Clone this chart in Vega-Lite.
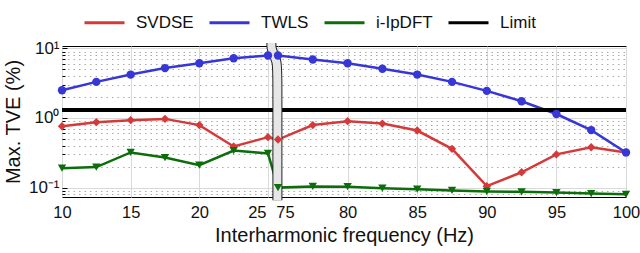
{
  "$schema": "https://vega.github.io/schema/vega-lite/v6.json",
  "width": 564,
  "height": 151,
  "autosize": {"type": "none"},
  "padding": {"left": 62, "top": 46, "right": 14, "bottom": 56},
  "background": "white",
  "config": {
    "font": "Liberation Sans",
    "view": {"stroke": "black", "strokeWidth": 1},
    "axis": {
      "labelFont": "Liberation Sans",
      "titleFont": "Liberation Sans",
      "labelColor": "#111",
      "titleColor": "#111",
      "titleFontWeight": "normal",
      "domain": false
    }
  },
  "datasets": {
    "series": [
      {"f": 10, "series": "SVDSE", "tve": 0.76},
      {"f": 12.5, "series": "SVDSE", "tve": 0.87},
      {"f": 15, "series": "SVDSE", "tve": 0.93},
      {"f": 17.5, "series": "SVDSE", "tve": 0.97},
      {"f": 20, "series": "SVDSE", "tve": 0.79},
      {"f": 22.5, "series": "SVDSE", "tve": 0.39},
      {"f": 25, "series": "SVDSE", "tve": 0.53},
      {"f": 75, "series": "SVDSE", "tve": 0.49},
      {"f": 77.5, "series": "SVDSE", "tve": 0.79},
      {"f": 80, "series": "SVDSE", "tve": 0.9},
      {"f": 82.5, "series": "SVDSE", "tve": 0.83},
      {"f": 85, "series": "SVDSE", "tve": 0.66},
      {"f": 87.5, "series": "SVDSE", "tve": 0.36},
      {"f": 90, "series": "SVDSE", "tve": 0.105},
      {"f": 92.5, "series": "SVDSE", "tve": 0.166},
      {"f": 95, "series": "SVDSE", "tve": 0.3},
      {"f": 97.5, "series": "SVDSE", "tve": 0.38},
      {"f": 100, "series": "SVDSE", "tve": 0.32},
      {"f": 10, "series": "TWLS", "tve": 2.5},
      {"f": 12.5, "series": "TWLS", "tve": 3.3},
      {"f": 15, "series": "TWLS", "tve": 4.2},
      {"f": 17.5, "series": "TWLS", "tve": 5.2},
      {"f": 20, "series": "TWLS", "tve": 6.1},
      {"f": 22.5, "series": "TWLS", "tve": 7.2},
      {"f": 25, "series": "TWLS", "tve": 7.9},
      {"f": 75, "series": "TWLS", "tve": 7.9},
      {"f": 77.5, "series": "TWLS", "tve": 6.9},
      {"f": 80, "series": "TWLS", "tve": 6.1},
      {"f": 82.5, "series": "TWLS", "tve": 5.1},
      {"f": 85, "series": "TWLS", "tve": 4.2},
      {"f": 87.5, "series": "TWLS", "tve": 3.3},
      {"f": 90, "series": "TWLS", "tve": 2.45},
      {"f": 92.5, "series": "TWLS", "tve": 1.74},
      {"f": 95, "series": "TWLS", "tve": 1.14},
      {"f": 97.5, "series": "TWLS", "tve": 0.67},
      {"f": 100, "series": "TWLS", "tve": 0.32},
      {"f": 10, "series": "i-IpDFT", "tve": 0.19},
      {"f": 12.5, "series": "i-IpDFT", "tve": 0.197},
      {"f": 15, "series": "i-IpDFT", "tve": 0.32},
      {"f": 17.5, "series": "i-IpDFT", "tve": 0.27},
      {"f": 20, "series": "i-IpDFT", "tve": 0.21},
      {"f": 22.5, "series": "i-IpDFT", "tve": 0.34},
      {"f": 25, "series": "i-IpDFT", "tve": 0.31},
      {"f": 75, "series": "i-IpDFT", "tve": 0.1},
      {"f": 77.5, "series": "i-IpDFT", "tve": 0.104},
      {"f": 80, "series": "i-IpDFT", "tve": 0.103},
      {"f": 82.5, "series": "i-IpDFT", "tve": 0.098},
      {"f": 85, "series": "i-IpDFT", "tve": 0.095},
      {"f": 87.5, "series": "i-IpDFT", "tve": 0.091},
      {"f": 90, "series": "i-IpDFT", "tve": 0.088},
      {"f": 92.5, "series": "i-IpDFT", "tve": 0.087},
      {"f": 95, "series": "i-IpDFT", "tve": 0.085},
      {"f": 97.5, "series": "i-IpDFT", "tve": 0.082},
      {"f": 100, "series": "i-IpDFT", "tve": 0.08}
    ],
    "limit": [{"series": "Limit", "tve": 1.3}],
    "brk": [
      {"k": 0, "bx": 42, "by": 11.9},
      {"k": 1, "bx": 42, "by": 10.8},
      {"k": 2, "bx": 42, "by": 9.8},
      {"k": 3, "bx": 72, "by": 6.2},
      {"k": 4, "bx": 72, "by": 4.6},
      {"k": 5, "bx": 72, "by": 0.066}
    ]
  },
  "layer": [
    {
      "data": {"name": "series"},
      "mark": {"type": "line", "strokeWidth": 2.5},
      "encoding": {
        "x": {
          "field": "f", "type": "quantitative",
          "scale": {"domain": [10, 25, 75, 100], "range": [0, 206, 216, 564]},
          "axis": {
            "values": [10, 15, 20, 25, 75, 80, 85, 90, 95, 100],
            "title": "Interharmonic frequency (Hz)",
            "titleFontSize": 20,
            "titlePadding": 5,
            "labelFontSize": 16.5,
            "labelPadding": 7,
            "ticks": false,
            "labelAlign": {"condition": {"test": "datum.value == 25", "value": "right"}, "value": "center"},
            "labelOffset": {"condition": [{"test": "datum.value == 75", "value": 7}, {"test": "datum.value == 25", "value": -2}], "value": 0},
            "grid": true,
            "gridColor": "#d9d9d9",
            "gridWidth": 1
          }
        },
        "y": {
          "field": "tve", "type": "quantitative",
          "scale": {"type": "log", "domain": [0.0733, 10.8], "nice": false},
          "axis": {
            "values": [0.08, 0.09, 0.1, 0.2, 0.3, 0.4, 0.5, 0.6, 0.7, 0.8, 0.9, 1, 2, 3, 4, 5, 6, 7, 8, 9, 10],
            "labelExpr": "datum.value == 10 ? '10¹' : datum.value == 1 ? '10⁰' : datum.value == 0.1 ? '10⁻¹' : ''",
            "title": "Max. TVE (%)",
            "titleFontSize": 20,
            "titlePadding": 5,
            "labelFontSize": 17,
            "labelPadding": 8,
            "ticks": true,
            "tickColor": "black",
            "tickSize": {"condition": {"test": "datum.value == 10 || datum.value == 1 || datum.value == 0.1", "value": -5}, "value": -3},
            "grid": true,
            "gridColor": {"condition": {"test": "datum.value == 10 || datum.value == 1 || datum.value == 0.1", "value": "#d9d9d9"}, "value": "#aaaaaa"},
            "gridDash": {"condition": {"test": "datum.value == 10 || datum.value == 1 || datum.value == 0.1", "value": []}, "value": [1.5, 4]}
          }
        },
        "color": {
          "field": "series", "type": "nominal",
          "scale": {"domain": ["SVDSE", "TWLS", "i-IpDFT", "Limit"], "range": ["#d43a3a", "#3737d8", "#0b6e0b", "#000000"]},
          "legend": {
            "orient": "none",
            "legendX": 21,
            "legendY": -45,
            "direction": "horizontal",
            "symbolType": "stroke",
            "symbolSize": 1600,
            "symbolStrokeWidth": 3,
            "labelFont": "Liberation Sans Narrow, Liberation Sans",
            "labelFontSize": 17,
            "labelColor": "#111",
            "labelOffset": 10,
            "columnPadding": 9,
            "title": null
          }
        }
      }
    },
    {
      "data": {"name": "limit"},
      "mark": {"type": "rule", "strokeWidth": 4},
      "encoding": {
        "y": {"field": "tve", "type": "quantitative"},
        "color": {"field": "series", "type": "nominal"}
      }
    },
    {
      "data": {"name": "brk"},
      "mark": {"type": "line", "interpolate": "basis", "strokeWidth": 10, "color": "#222", "strokeCap": "butt", "clip": false},
      "encoding": {
        "x": {"field": "bx", "type": "quantitative"},
        "y": {"field": "by", "type": "quantitative"},
        "order": {"field": "k", "type": "quantitative"}
      }
    },
    {
      "data": {"name": "brk"},
      "mark": {"type": "line", "interpolate": "basis", "strokeWidth": 8, "color": "#e6e6e6", "strokeCap": "butt", "clip": false},
      "encoding": {
        "x": {"field": "bx", "type": "quantitative"},
        "y": {"field": "by", "type": "quantitative"},
        "order": {"field": "k", "type": "quantitative"}
      }
    },
    {
      "data": {"name": "series"},
      "mark": {"type": "point", "filled": true, "size": 70, "opacity": 1},
      "encoding": {
        "x": {"field": "f", "type": "quantitative"},
        "y": {"field": "tve", "type": "quantitative"},
        "color": {"field": "series", "type": "nominal"},
        "shape": {
          "field": "series", "type": "nominal", "legend": null,
          "scale": {"domain": ["SVDSE", "TWLS", "i-IpDFT"], "range": ["diamond", "circle", "triangle-down"]}
        }
      }
    }
  ]
}
